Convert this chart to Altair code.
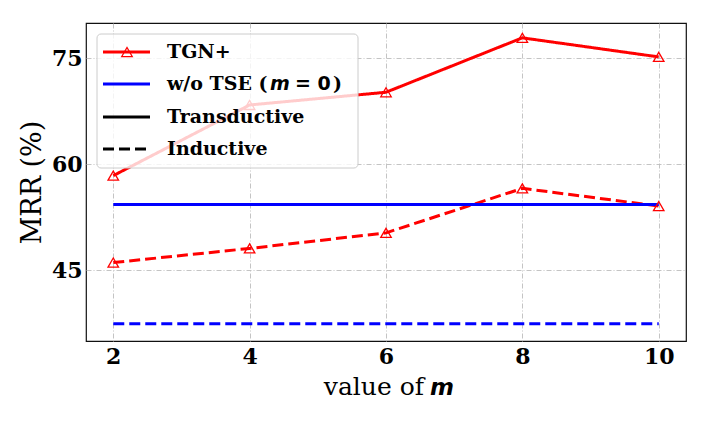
import altair as alt
import pandas as pd

# ---- data ----
m_values = [2, 4, 6, 8, 10]
tgn_transductive = [58.4, 68.4, 70.2, 77.9, 75.2]
tgn_inductive = [46.1, 48.1, 50.3, 56.6, 54.1]
wo_tse_transductive = 54.3
wo_tse_inductive = 37.45

models = ["TGN+", "w/o TSE (m = 0)"]
settings = ["Transductive", "Inductive"]
model_colors = ["#ff0000", "#0000ff"]
setting_dashes = [[1, 0], [11, 5]]

x_ticks = [2, 4, 6, 8, 10]
y_ticks = [45, 60, 75]

legend_labels = ["TGN+", "w/o TSE (", "Transductive", "Inductive"]
legend_colors = ["#ff0000", "#0000ff", "#000000", "#000000"]
legend_dashes = [[1, 0], [1, 0], [1, 0], [11, 5]]

rows = []
for m, t, i in zip(m_values, tgn_transductive, tgn_inductive):
    rows.append({"model": models[0], "setting": settings[0], "m": m, "mrr": t})
    rows.append({"model": models[0], "setting": settings[1], "m": m, "mrr": i})
for m in m_values:
    rows.append({"model": models[1], "setting": settings[0], "m": m, "mrr": wo_tse_transductive})
    rows.append({"model": models[1], "setting": settings[1], "m": m, "mrr": wo_tse_inductive})
df = pd.DataFrame(rows)

SERIF = "DejaVu Serif"
SANS = "DejaVu Sans"

x_enc = alt.X(
    "m:Q",
    scale=alt.Scale(domain=[1.6, 10.4], nice=False, zero=False),
    axis=alt.Axis(values=x_ticks, title=None, grid=True, ticks=False, domain=False,
                  labelFont=SERIF, labelFontWeight="bold", labelFontSize=22,
                  labelColor="black", labelPadding=5, format="d"),
)
y_enc = alt.Y(
    "mrr:Q",
    scale=alt.Scale(domain=[35, 80], nice=False, zero=False),
    axis=alt.Axis(values=y_ticks, title="MRR (%)", grid=True, ticks=False, domain=False,
                  labelFont=SERIF, labelFontWeight="bold", labelFontSize=22,
                  labelColor="black", labelPadding=4,
                  titleFont=SERIF, titleFontWeight="normal", titleFontSize=27,
                  titleColor="black", titlePadding=5),
)

lines = alt.Chart(df).mark_line(strokeWidth=3).encode(
    x=x_enc,
    y=y_enc,
    color=alt.Color("model:N", scale=alt.Scale(domain=models, range=model_colors), legend=None),
    strokeDash=alt.StrokeDash("setting:N", scale=alt.Scale(domain=settings, range=setting_dashes), legend=None),
)

points = alt.Chart(df[df["model"] == models[0]]).mark_point(
    shape="triangle-up", filled=False, size=110, strokeWidth=1.3, color="#ff0000", opacity=1
).encode(x="m:Q", y="mrr:Q")

dummy = pd.DataFrame({"k": [0]})

legend_box = alt.Chart(dummy).mark_rect(
    fill="white", fillOpacity=0.8, stroke="#cccccc", strokeWidth=1, cornerRadius=4
).encode(x=alt.value(11), x2=alt.value(272), y=alt.value(11), y2=alt.value(145))

row_y = [29, 61, 94, 126]
legend_layers = []
for lab, col, dash, ry in zip(legend_labels, legend_colors, legend_dashes, row_y):
    legend_layers.append(
        alt.Chart(dummy).mark_rule(color=col, strokeWidth=3, strokeDash=dash).encode(
            x=alt.value(17), x2=alt.value(64), y=alt.value(ry))
    )
    legend_layers.append(
        alt.Chart(dummy).mark_text(align="left", baseline="middle", font=SERIF,
                                   fontWeight="bold", fontSize=19, color="black", text=lab).encode(
            x=alt.value(81), y=alt.value(ry))
    )
legend_layers.append(
    alt.Chart(dummy).mark_point(shape="triangle-up", filled=False, size=110, strokeWidth=1.3,
                                color="#ff0000", opacity=1).encode(x=alt.value(41), y=alt.value(row_y[0]))
)
legend_layers.append(
    alt.Chart(dummy).mark_text(align="left", baseline="middle", font=SANS, fontWeight="bold",
                               fontStyle="italic", fontSize=19, color="black", text="m").encode(
        x=alt.value(184), y=alt.value(row_y[1]))
)
legend_layers.append(
    alt.Chart(dummy).mark_text(align="left", baseline="middle", font=SANS, fontWeight="bold",
                               fontSize=19, color="black", text="= 0").encode(
        x=alt.value(209), y=alt.value(row_y[1]))
)
legend_layers.append(
    alt.Chart(dummy).mark_text(align="left", baseline="middle", font=SERIF, fontWeight="bold",
                               fontSize=19, color="black", text=")").encode(
        x=alt.value(247), y=alt.value(row_y[1]))
)

x_title = [
    alt.Chart(dummy).mark_text(align="right", baseline="alphabetic", font=SERIF, fontSize=25,
                               color="black", text="value of").encode(x=alt.value(338), y=alt.value(372)),
    alt.Chart(dummy).mark_text(align="left", baseline="alphabetic", font=SANS, fontWeight="bold",
                               fontStyle="italic", fontSize=23, color="black", text="m").encode(
        x=alt.value(344), y=alt.value(372)),
]

chart = alt.layer(lines, points, legend_box, *legend_layers, *x_title).properties(
    width=600, height=318,
    autosize=alt.AutoSizeParams(type="none"),
    padding={"left": 78, "top": 15, "right": 16, "bottom": 85},
    background="white",
).configure_view(
    stroke="#111111", strokeWidth=1.2
).configure_axis(
    gridColor="#bdbdbd", gridDash=[5, 2, 1, 2], gridWidth=0.9, gridOpacity=1
)

chart.save("out.html", embed_options={"renderer": "svg", "actions": False})
